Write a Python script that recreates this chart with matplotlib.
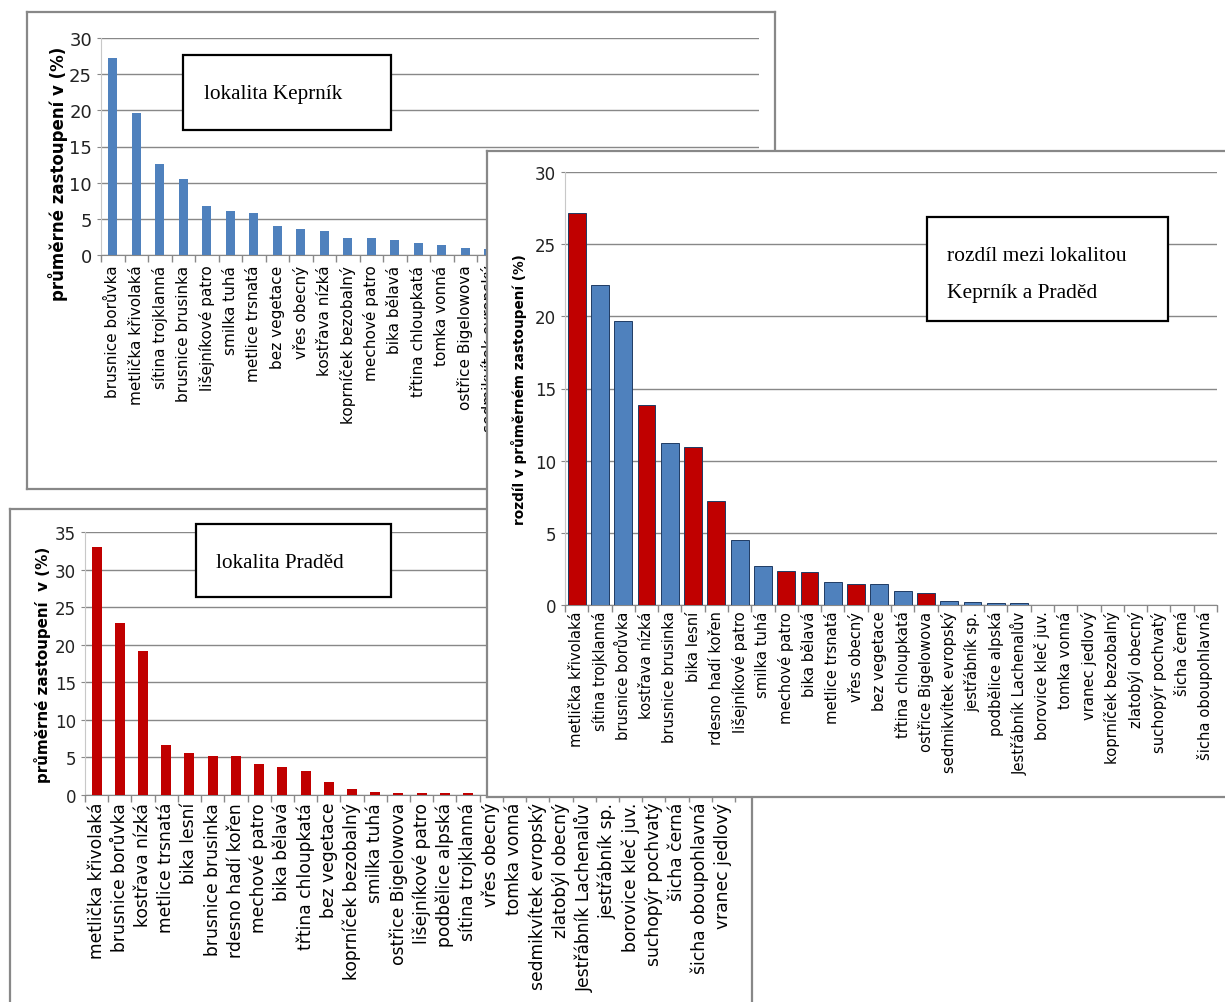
import numpy as np
import matplotlib
matplotlib.use("Agg")
import matplotlib.pyplot as plt
from matplotlib.patches import Rectangle
from matplotlib.transforms import Bbox

W, H = 1225, 1003
BLUE = "#4f81bd"
RED = "#c00000"
GRID = "#888888"

# lokalita Keprník
kep_labels = ["brusnice borůvka", "metlička křivolaká", "sítina trojklanná", "brusnice brusinka",
              "lišejníkové patro", "smilka tuhá", "metlice trsnatá", "bez vegetace", "vřes obecný",
              "kostřava nízká", "koprníček bezobalný", "mechové patro", "bika bělavá",
              "třtina chloupkatá", "tomka vonná", "ostřice Bigelowova", "sedmikvítek evropský",
              "jestřábník sp.", "podbělice alpská", "Jestřábník Lachenalův", "bika lesní",
              "rdesno hadí kořen", "borovice kleč juv.", "vranec jedlový", "zlatobýl obecný",
              "suchopýr pochvatý", "šicha černá", "šicha oboupohlavná"]
kep_values = [27.2, 19.6, 12.6, 10.5, 6.8, 6.1, 5.8, 4.0, 3.6, 3.3, 2.35, 2.35, 2.1, 1.65,
              1.4, 1.0, 0.85, 0.6, 0.4, 0.3, 0.2, 0.1, 0, 0, 0, 0, 0, 0]

# lokalita Praděd
prad_labels = ["metlička křivolaká", "brusnice borůvka", "kostřava nízká", "metlice trsnatá",
               "bika lesní", "brusnice brusinka", "rdesno hadí kořen", "mechové patro",
               "bika bělavá", "třtina chloupkatá", "bez vegetace", "koprníček bezobalný",
               "smilka tuhá", "ostřice Bigelowova", "lišejníkové patro", "podbělice alpská",
               "sítina trojklanná", "vřes obecný", "tomka vonná", "sedmikvítek evropský",
               "zlatobýl obecný", "Jestřábník Lachenalův", "jestřábník sp.", "borovice kleč juv.",
               "suchopýr pochvatý", "šicha černá", "šicha oboupohlavná", "vranec jedlový"]
prad_values = [33.0, 22.9, 19.2, 6.6, 5.6, 5.2, 5.2, 4.1, 3.7, 3.2, 1.7, 0.85, 0.45, 0.3,
               0.3, 0.2, 0.2, 0, 0, 0, 0, 0, 0, 0, 0, 0, 0, 0]

# rozdíl mezi lokalitami (P = vyšší na Pradědu, K = vyšší na Keprníku)
diff_labels = ["metlička křivolaká", "sítina trojklanná", "brusnice borůvka", "kostřava nízká",
               "brusnice brusinka", "bika lesní", "rdesno hadí kořen", "lišejníkové patro",
               "smilka tuhá", "mechové patro", "bika bělavá", "metlice trsnatá", "vřes obecný",
               "bez vegetace", "třtina chloupkatá", "ostřice Bigelowova", "sedmikvítek evropský",
               "jestřábník sp.", "podbělice alpská", "Jestřábník Lachenalův", "borovice kleč juv.",
               "tomka vonná", "vranec jedlový", "koprníček bezobalný", "zlatobýl obecný",
               "suchopýr pochvatý", "šicha černá", "šicha oboupohlavná"]
diff_values = [27.18, 22.19, 19.67, 13.84, 11.21, 10.93, 7.19, 4.48, 2.70, 2.33, 2.26, 1.57,
               1.46, 1.46, 0.97, 0.81, 0.25, 0.18, 0.12, 0.12, 0, 0, 0, 0, 0, 0, 0, 0]
diff_side = ["P", "K", "K", "P", "K", "P", "P", "K", "K", "P", "P", "K", "P", "K", "K", "P",
             "K", "K", "K", "K", "K", "K", "K", "K", "K", "K", "K", "K"]


def rect(x0, y0, x1, y1):
    return [x0 / W, 1 - y1 / H, (x1 - x0) / W, (y1 - y0) / H]


def panel(fig, box, z):
    p = fig.add_axes(rect(*box), zorder=z)
    p.set_xticks([])
    p.set_yticks([])
    p.set_facecolor("white")
    for s in p.spines.values():
        s.set_color(GRID)
        s.set_linewidth(1.6)
    return p


def bar_chart(fig, box, z, labels, values, colors, width, ymax, ylabel,
              lab_size, ylab_size, ytick_size, pad, edge=None):
    ax = fig.add_axes(rect(*box), zorder=z)
    ax.patch.set_alpha(0)
    x = np.arange(len(labels))
    kw = dict(edgecolor=edge, linewidth=0.7) if edge else dict(linewidth=0)
    ax.bar(x, values, width=width, color=colors, zorder=3, **kw)
    ax.set_xlim(-0.5, len(labels) - 0.5)
    ax.set_ylim(0, ymax)
    ax.set_yticks(np.arange(0, ymax + 1, 5))
    ax.yaxis.grid(True, color=GRID, linewidth=1.0, zorder=0)
    ax.set_axisbelow(True)
    ax.set_xticks(x)
    ax.set_xticklabels(labels, rotation=90, fontsize=lab_size, family="DejaVu Sans")
    ax.set_xticks(np.arange(-0.5, len(labels), 1), minor=True)
    ax.tick_params(axis="x", which="major", length=0, pad=pad)
    ax.tick_params(axis="x", which="minor", length=5, color=GRID, width=1)
    ax.tick_params(axis="y", length=3, color=GRID, labelsize=ytick_size, labelcolor="#222222")
    for t in ax.get_yticklabels():
        t.set_family(["Liberation Sans Narrow", "DejaVu Sans"])
    ax.spines[["top", "right"]].set_visible(False)
    ax.spines["left"].set_color("#c8c8c8")
    ax.spines["bottom"].set_color(GRID)
    ax.set_ylabel(ylabel, fontsize=ylab_size, fontweight="bold", family="DejaVu Sans")
    return ax


def title_box(fig, ax, box, lines, tx, ty, size):
    x0, y0, x1, y1 = box
    ax.add_patch(Rectangle((x0 / W, 1 - y1 / H), (x1 - x0) / W, (y1 - y0) / H,
                           transform=fig.transFigure, facecolor="white", edgecolor="black",
                           linewidth=1.6, clip_on=False, zorder=10))
    for line, yy in zip(lines, ty):
        ax.text(tx / W, 1 - yy / H, line, transform=fig.transFigure, fontsize=size,
                family="Liberation Serif", va="center", ha="left", zorder=11, clip_on=False)


fig = plt.figure(figsize=(W / 100, H / 100), dpi=100)

# horní graf – Keprník
panel(fig, (27, 13, 775, 490), 1)
ax1 = bar_chart(fig, (101, 39, 759, 256), 2, kep_labels, kep_values, BLUE, 0.4, 30,
                "průměrné zastoupení v (%)", 11.0, 12, 13, 7)
ax1.yaxis.set_label_coords(-0.05, 0.38)
title_box(fig, ax1, (183, 56, 391, 131), ["lokalita Keprník"], 204, [95], 15.2)
# popisky pod grafem rozdílu se nekreslí
cut = Bbox.from_extents(0, 0, 487, H)
for t in ax1.get_xticklabels():
    t.set_clip_box(cut)
    t.set_clip_on(True)
for i, t in enumerate(ax1.get_xticklabels()):
    if i > 16:
        t.set_visible(False)

# dolní graf – Praděd
panel(fig, (10, 510, 752, 1020), 3)
ax2 = bar_chart(fig, (85, 533, 735, 796), 4, prad_labels, prad_values, RED, 0.43, 35,
                "průměrné zastoupení  v (%)", 12.3, 10.9, 12, 5)
ax2.yaxis.set_label_coords(-0.052, 0.5)
title_box(fig, ax2, (196, 525, 391, 598), ["lokalita Praděd"], 216, [563], 15.2)

# rozdíl mezi lokalitami
panel(fig, (487, 152, 1240, 798), 5)
diff_colors = [RED if s == "P" else BLUE for s in diff_side]
ax3 = bar_chart(fig, (565, 173, 1217, 606), 6, diff_labels, diff_values, diff_colors, 0.77, 30,
                "rozdíl v průměrném zastoupení (%)", 10.6, 9.8, 12, 4, edge="#1f3b64")
ax3.yaxis.set_label_coords(-0.058, 0.5)
title_box(fig, ax3, (927, 218, 1168, 322), ["rozdíl mezi lokalitou", "Keprník a Praděd"],
          947, [257, 294], 15.5)

fig.savefig("out.png", dpi=100)
